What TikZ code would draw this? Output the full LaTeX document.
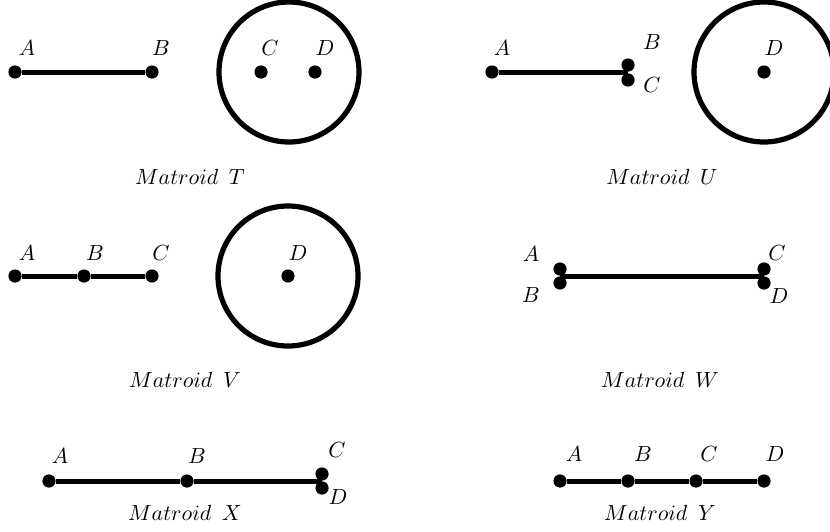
\documentclass[tikz,border=0pt]{standalone}
\begin{document}
\begin{tikzpicture}[x=0.5pt,y=-0.5pt,
  every node/.style={font=\fontsize{10.7}{13}\selectfont},
  dot/.style={circle,fill=black,inner sep=0pt,minimum size=6.6pt},
  lbl/.style={inner sep=0pt},
  seg/.style={line width=2.5pt},
  ring/.style={line width=2.6pt},
  title/.style={inner sep=0pt}]
\useasboundingbox (0,0) rectangle (830,531);
\clip (0,0) rectangle (830,531);
% Matroid T
\coordinate (Tc) at (289,72);
\draw[ring] (Tc) circle[radius=35pt];
\node[dot] (TA) at (15,72) {};
\node[dot] (TB) at (152,72) {};
\draw[seg] (TA) -- (TB);
\node[dot] (TC) at (261,72) {};
\node[dot] (TD) at (315,72) {};
\node[lbl] (lTA) at (27,48) {$A$};
\node[lbl] (lTB) at (161,48) {$B$};
\node[lbl] (lTC) at (270,48) {$C$};
\node[lbl] (lTD) at (325,48) {$D$};
\node[title] (tT) at (190,177) {$Matroid\ \,T$};
% Matroid U
\coordinate (Uc) at (764,72);
\draw[ring] (Uc) circle[radius=35pt];
\node[dot] (UA) at (492,72) {};
\node[dot] (UB) at (628,65) {};
\node[dot] (UC) at (628,80) {};
\coordinate (Um) at (628,72);
\draw[seg] (UA) -- (Um);
\node[dot] (UD) at (764,72) {};
\node[lbl] (lUA) at (502,48) {$A$};
\node[lbl] (lUB) at (652,42) {$B$};
\node[lbl] (lUC) at (652,85) {$C$};
\node[lbl] (lUD) at (774,48) {$D$};
\node[title] (tU) at (662,177) {$Matroid\ \,U$};
% Matroid V
\coordinate (Vc) at (288,276);
\draw[ring] (Vc) circle[radius=35pt];
\node[dot] (VA) at (15,276) {};
\node[dot] (VB) at (84,276) {};
\node[dot] (VC) at (152,276) {};
\draw[seg] (VA) -- (VB) -- (VC);
\node[dot] (VD) at (288,276) {};
\node[lbl] (lVA) at (27,253) {$A$};
\node[lbl] (lVB) at (95,253) {$B$};
\node[lbl] (lVC) at (161,253) {$C$};
\node[lbl] (lVD) at (298,253) {$D$};
\node[title] (tV) at (185,380) {$Matroid\ \,V$};
% Matroid W
\node[dot] (WA) at (560,269) {};
\node[dot] (WB) at (560,283) {};
\node[dot] (WC) at (764,269) {};
\node[dot] (WD) at (764,283) {};
\coordinate (Wl) at (560,276);
\coordinate (Wr) at (764,276);
\draw[seg] (Wl) -- (Wr);
\node[lbl] (lWA) at (531,254) {$A$};
\node[lbl] (lWB) at (531,295) {$B$};
\node[lbl] (lWC) at (777,253) {$C$};
\node[lbl] (lWD) at (779,296) {$D$};
\node[title] (tW) at (660,380) {$Matroid\ \,W$};
% Matroid X
\node[dot] (XA) at (49,481) {};
\node[dot] (XB) at (187,481) {};
\node[dot] (XC) at (322,474) {};
\node[dot] (XD) at (322,488) {};
\coordinate (Xm) at (322,481);
\draw[seg] (XA) -- (XB) -- (Xm);
\node[lbl] (lXA) at (60,456) {$A$};
\node[lbl] (lXB) at (197,456) {$B$};
\node[lbl] (lXC) at (337,450) {$C$};
\node[lbl] (lXD) at (338,497) {$D$};
\node[title] (tX) at (185,513) {$Matroid\ \,X$};
% Matroid Y
\node[dot] (YA) at (560,481) {};
\node[dot] (YB) at (628,481) {};
\node[dot] (YC) at (696,481) {};
\node[dot] (YD) at (764,481) {};
\draw[seg] (YA) -- (YB) -- (YC) -- (YD);
\node[lbl] (lYA) at (574,454) {$A$};
\node[lbl] (lYB) at (643,454) {$B$};
\node[lbl] (lYC) at (709,454) {$C$};
\node[lbl] (lYD) at (775,454) {$D$};
\node[title] (tY) at (660,513) {$Matroid\ \,Y$};
\end{tikzpicture}
\end{document}
